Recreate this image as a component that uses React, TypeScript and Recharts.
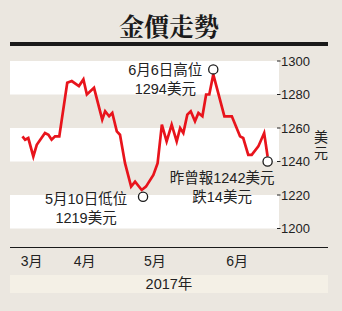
import { LineChart, Line, XAxis, YAxis, ReferenceArea, ReferenceDot } from 'recharts';

// x = calendar day counted from 1 Mar 2017 (day 0), y = US$ per ounce
const days = [
  24.5, 25.5, 26.7, 28.6, 29.9, 33, 34.3, 35.5, 36.8, 38.4,
  41.4, 43.1, 45.8, 47.5, 48.8, 51.5, 54.6, 55.7, 57.2, 58.4,
  60.1, 61.3, 63.2, 65.5, 67, 69.5, 71.1, 73.9, 75.5, 77.1,
  78.9, 80.8, 82.7, 84, 85.2, 86.7, 88, 89.6, 90.9, 92.4,
  93.8, 95, 96.5, 100.7, 103.5, 106.6, 107.8, 109.7, 111, 113.5,
  115.7, 117,
];
const prices = [
  1255, 1253, 1254, 1243, 1250, 1257, 1256, 1253, 1255, 1255,
  1287, 1288, 1285, 1289, 1280, 1284, 1265, 1270, 1267, 1269,
  1258, 1256, 1239, 1225, 1228, 1223, 1225, 1232, 1239, 1262,
  1252, 1262, 1252, 1260, 1257, 1268, 1270, 1264, 1269, 1267,
  1280, 1280, 1292, 1267, 1267, 1255, 1254, 1244, 1244, 1249,
  1257, 1243,
];

const monthTicks = [28, 48, 74.5, 105.5];
const monthLabels = ['3月', '4月', '5月', '6月'];
const priceTicks = [1200, 1220, 1240, 1260, 1280, 1300];
const whiteBands = [[1200, 1220], [1240, 1260], [1280, 1300]];

const lowPoint = { day: 70, price: 1219 };
const highPoint = { day: 96.5, price: 1295 };
const lastPoint = { day: 117, price: 1240 };
const lowText = ['5月10日低位', '1219美元'];
const highText = ['6月6日高位', '1294美元'];
const lastText = ['昨曾報1242美元', '跌14美元'];

const data = days.map((d, i) => ({ day: d, price: prices[i] }));

const FONT = '"Liberation Sans", "Noto Sans CJK TC", sans-serif';
const BG = '#ebe7e0';

const PriceTick = (props: any) => {
  const { x, y, payload } = props;
  return (
    <g>
      <line x1={x - 2} x2={x + 1.5} y1={y} y2={y} stroke="#222" strokeWidth={1} />
      <text x={x + 2} y={y} dy={4.6} fontSize={13} fill="#222" fontFamily={FONT}>
        {payload.value}
      </text>
    </g>
  );
};

const MonthTick = (props: any) => {
  const { x, y, index } = props;
  return (
    <text x={x} y={y} dy={37.5} fontSize={14} fill="#222" textAnchor="middle" fontFamily={FONT}>
      {monthLabels[index]}
    </text>
  );
};

// two-line note placed relative to the circle's centre
const Note = (props: any) => {
  const { viewBox, lines, dx, dy } = props;
  const cx = viewBox.x + viewBox.width / 2;
  const cy = viewBox.y + viewBox.height / 2;
  return (
    <g>
      {lines.map((t: string, i: number) => (
        <text
          key={i}
          x={cx + dx}
          y={cy + dy + i * 19}
          fontSize={14.5}
          fill="#222"
          textAnchor="middle"
          fontFamily={FONT}
        >
          {t}
        </text>
      ))}
    </g>
  );
};

const App = () => {
  return (
    <div style={{ position: 'absolute', left: 0, top: 0, width: 342, height: 311, background: BG, fontFamily: FONT }}>
      <div
        style={{
          position: 'absolute', left: 0, top: 7, width: 338, textAlign: 'center',
          fontSize: 25, fontWeight: 700, color: '#1a1a1a', lineHeight: '36px',
          fontFamily: '"Noto Serif CJK TC", "Noto Sans CJK TC", serif',
        }}
      >
        金價走勢
      </div>
      <div style={{ position: 'absolute', left: 10, top: 42, width: 318, height: 4, background: '#1a1a1a' }} />
      <div style={{ position: 'absolute', left: 10, top: 246.5, width: 318, height: 1.2, background: '#1a1a1a' }} />
      <div
        style={{
          position: 'absolute', left: 10, top: 275, width: 318, height: 18, background: '#f4f0e6',
          textAlign: 'center', fontSize: 14.5, lineHeight: '18px', color: '#222',
        }}
      >
        2017年
      </div>
      <div
        style={{
          position: 'absolute', left: 313, top: 129, width: 16, fontSize: 14, lineHeight: '16px',
          color: '#222', textAlign: 'center',
        }}
      >
        <div>美</div>
        <div>元</div>
      </div>
      <div style={{ position: 'absolute', left: 0, top: 0 }}>
        <LineChart width={342} height={311} data={data} margin={{ top: 61, right: 0, bottom: 52.5, left: 10 }}>
          {whiteBands.map(([a, b]) => (
            <ReferenceArea key={a} y1={a} y2={b} fill="#ffffff" fillOpacity={1} stroke="none" yAxisId="p" />
          ))}
          <XAxis
            dataKey="day"
            type="number"
            domain={[19.8, 121.3]}
            ticks={monthTicks}
            allowDataOverflow
            axisLine={false}
            tickLine={false}
            tickSize={0}
            tickMargin={0}
            height={30}
            tick={<MonthTick />}
            interval={0}
          />
          <YAxis
            yAxisId="p"
            orientation="right"
            type="number"
            domain={[1200, 1300]}
            ticks={priceTicks}
            allowDataOverflow
            axisLine={false}
            tickLine={false}
            tickSize={0}
            tickMargin={0}
            width={63}
            tick={<PriceTick />}
            interval={0}
          />
          <Line
            yAxisId="p"
            dataKey="price"
            type="linear"
            stroke="#e8141c"
            strokeWidth={2.7}
            dot={false}
            isAnimationActive={false}
            strokeLinejoin="miter"
          />
          <ReferenceDot
            yAxisId="p" x={lowPoint.day} y={lowPoint.price} r={4.6}
            fill="#ffffff" stroke="#1a1a1a" strokeWidth={1.3}
            label={<Note lines={lowText} dx={-57} dy={7} />}
          />
          <ReferenceDot
            yAxisId="p" x={highPoint.day} y={highPoint.price} r={4.6}
            fill="#ffffff" stroke="#1a1a1a" strokeWidth={1.3}
            label={<Note lines={highText} dx={-48} dy={6} />}
          />
          <ReferenceDot
            yAxisId="p" x={lastPoint.day} y={lastPoint.price} r={4.6}
            fill="#ffffff" stroke="#1a1a1a" strokeWidth={1.3}
            label={<Note lines={lastText} dx={-45.5} dy={21} />}
          />
        </LineChart>
      </div>
    </div>
  );
};

export default App;
